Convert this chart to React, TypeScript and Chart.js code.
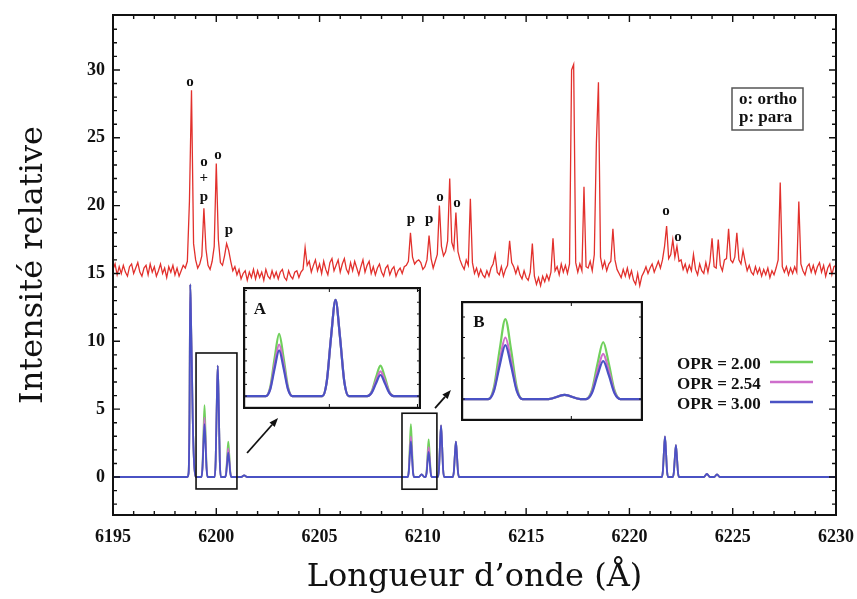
import React, { useEffect, useRef } from 'react';
import { Chart, registerables } from 'chart.js';

Chart.register(...registerables);

// ---------- DATA ----------
// Observed spectrum (red): intensities sampled every 0.1 Å from 6195.0 Å
const RED_START = 6195.0;
const RED_STEP = 0.1;
const redIntensity = [
  15.3, 15.7, 14.9, 15.5, 15.0, 15.6, 15.1, 14.8, 15.5, 15.7,
  15.0, 15.4, 15.8, 15.1, 14.8, 15.4, 15.6, 14.9, 15.7, 15.1,
  15.5, 14.8, 15.2, 15.7, 15.0, 15.4, 14.7, 15.5, 15.1, 15.6,
  14.9, 15.4, 14.8, 15.2, 15.6, 15.4, 15.9, 20.3, 28.5, 17.2,
  16.0, 15.4, 15.7, 16.3, 19.8, 16.8, 15.6, 15.3, 15.9, 17.0,
  23.1, 17.5, 15.8, 15.6, 16.3, 17.2, 16.7, 15.9, 15.2, 15.5,
  14.9, 15.3, 14.6, 15.0, 15.2, 14.5, 15.1, 14.7, 15.3, 14.6,
  15.2, 14.7, 15.1, 14.5, 15.3, 14.8, 14.6, 15.2, 14.7, 15.1,
  14.6, 15.1, 15.3, 14.7, 14.5, 15.2, 14.8, 14.6, 15.1, 15.2,
  14.7, 15.1, 15.3, 16.9, 15.6, 15.9, 15.1, 15.6, 16.0, 15.2,
  15.7, 15.0, 15.9, 15.3, 14.9, 15.8, 16.1, 15.2, 15.6, 16.0,
  15.1, 15.7, 16.1, 15.3, 15.0, 15.8, 15.2, 15.9, 15.4, 14.9,
  15.5, 16.0, 15.1, 15.6, 15.9, 15.0, 15.5, 14.9, 15.4, 15.7,
  15.1, 14.8, 15.4, 15.6, 14.9, 15.3, 15.5, 14.8, 15.2, 15.4,
  15.0, 15.5, 15.6, 15.9, 18.0, 16.2, 15.7, 15.9, 16.0, 15.8,
  15.3, 15.5, 16.0, 17.8, 16.1, 15.4, 15.9, 16.4, 20.0, 17.0,
  16.3, 16.6, 17.4, 22.0, 17.3, 16.8, 19.5, 16.6, 16.0, 15.6,
  15.3, 16.0, 15.6, 20.5, 15.8, 15.0, 15.4, 14.8, 15.3, 14.9,
  14.7, 15.2, 14.8, 15.4, 15.7, 16.4, 15.1, 14.9, 15.5, 14.8,
  15.3, 15.6, 17.4, 15.8, 15.5, 15.0, 15.5, 14.9, 14.6, 15.2,
  14.7, 14.5, 15.1, 17.2, 14.8, 14.2, 14.7, 14.1, 14.8, 14.4,
  14.9, 14.5, 15.1, 17.6, 15.2, 15.5, 14.9, 15.7, 15.1, 15.6,
  15.0, 15.7, 30.0, 30.4, 15.8, 15.1, 15.7, 15.2, 21.4, 15.5,
  15.4, 15.9, 15.2, 16.4, 24.6, 29.1, 16.2, 15.4, 15.9, 15.2,
  15.7, 15.9, 18.3, 16.0, 15.3, 15.0, 14.7, 15.3, 14.8, 15.4,
  14.7, 15.2, 14.5, 14.2, 15.0, 14.1, 14.8, 15.1, 15.5, 15.0,
  15.4, 15.7, 15.1, 15.5, 15.9, 15.4, 16.0, 17.0, 18.5, 16.1,
  16.4, 17.5, 16.2, 17.0, 15.9, 16.0, 15.3, 15.7, 15.1, 15.6,
  15.2, 16.4, 15.3, 14.9, 15.7, 15.2, 15.0, 15.8, 15.1, 15.9,
  17.6, 15.5, 15.4, 17.5, 15.6, 15.2, 16.0, 16.1, 18.3, 16.0,
  15.8, 16.2, 18.0, 16.0, 15.7, 16.7, 15.9, 15.2, 15.6, 15.1,
  14.9, 15.5, 15.0, 15.4, 14.8, 15.3, 14.9, 15.4, 14.7, 15.2,
  14.9, 15.4, 16.0, 21.7, 15.5, 15.1, 15.5, 14.9, 15.4, 15.0,
  15.5, 15.1, 20.3, 15.7, 15.2, 14.9, 15.5, 15.7, 15.1, 15.6,
  15.0, 15.5, 15.8, 15.1, 15.6, 14.8, 15.4, 15.7, 14.9, 15.5,
  15.6,
];

// Model spectra (wavelength points, shared by the three OPR values)
const modelWavelength = [
  6195.0,
  6198.6, 6198.66, 6198.7, 6198.74, 6198.78, 6198.82, 6198.86, 6198.92, 6199.0,
  6199.28, 6199.33, 6199.38, 6199.43, 6199.48, 6199.53, 6199.58,
  6199.92, 6199.97, 6200.02, 6200.07, 6200.12, 6200.17, 6200.22,
  6200.43, 6200.48, 6200.53, 6200.58, 6200.63, 6200.68, 6200.73,
  6201.2, 6201.35, 6201.5,
  6209.27, 6209.32, 6209.37, 6209.42, 6209.47, 6209.52, 6209.57,
  6209.8, 6209.94, 6210.08,
  6210.13, 6210.18, 6210.23, 6210.28, 6210.33, 6210.38, 6210.43,
  6210.73, 6210.78, 6210.83, 6210.88, 6210.93, 6210.98, 6211.03,
  6211.45, 6211.5, 6211.55, 6211.6, 6211.65, 6211.7, 6211.75,
  6221.57, 6221.62, 6221.67, 6221.72, 6221.77, 6221.82, 6221.87,
  6222.1, 6222.15, 6222.2, 6222.25, 6222.3, 6222.35, 6222.4,
  6223.6, 6223.75, 6223.9,
  6224.1, 6224.24, 6224.38,
  6230.0,
];

const modelOpr300 = [
  0,
  0, 0.3, 4.0, 14.2, 11.3, 8.0, 4.3, 1.2, 0,
  0, 0.6, 2.4, 3.9, 2.4, 0.6, 0,
  0, 1.2, 5.1, 8.2, 5.1, 1.2, 0,
  0, 0.27, 1.1, 1.8, 1.1, 0.27, 0,
  0, 0.12, 0,
  0, 0.4, 1.63, 2.63, 1.63, 0.4, 0,
  0, 0.2, 0,
  0, 0.28, 1.15, 1.85, 1.15, 0.28, 0,
  0, 0.57, 2.36, 3.8, 2.36, 0.57, 0,
  0, 0.39, 1.61, 2.6, 1.61, 0.39, 0,
  0, 0.45, 1.86, 3.0, 1.86, 0.45, 0,
  0, 0.35, 1.46, 2.35, 1.46, 0.35, 0,
  0, 0.22, 0,
  0, 0.2, 0,
  0,
];

const modelOpr254 = [
  0,
  0, 0.3, 4.0, 14.2, 11.3, 8.0, 4.3, 1.2, 0,
  0, 0.66, 2.73, 4.4, 2.73, 0.66, 0,
  0, 1.2, 5.1, 8.2, 5.1, 1.2, 0,
  0, 0.32, 1.3, 2.1, 1.3, 0.32, 0,
  0, 0.12, 0,
  0, 0.45, 1.86, 3.0, 1.86, 0.45, 0,
  0, 0.2, 0,
  0, 0.33, 1.36, 2.2, 1.36, 0.33, 0,
  0, 0.57, 2.36, 3.8, 2.36, 0.57, 0,
  0, 0.39, 1.61, 2.6, 1.61, 0.39, 0,
  0, 0.45, 1.86, 3.0, 1.86, 0.45, 0,
  0, 0.35, 1.46, 2.35, 1.46, 0.35, 0,
  0, 0.22, 0,
  0, 0.2, 0,
  0,
];

const modelOpr200 = [
  0,
  0, 0.3, 4.0, 14.2, 11.3, 8.0, 4.3, 1.2, 0,
  0, 0.8, 3.29, 5.3, 3.29, 0.8, 0,
  0, 1.2, 5.1, 8.2, 5.1, 1.2, 0,
  0, 0.39, 1.61, 2.6, 1.61, 0.39, 0,
  0, 0.12, 0,
  0, 0.59, 2.42, 3.9, 2.42, 0.59, 0,
  0, 0.2, 0,
  0, 0.42, 1.72, 2.78, 1.72, 0.42, 0,
  0, 0.57, 2.36, 3.8, 2.36, 0.57, 0,
  0, 0.39, 1.61, 2.6, 1.61, 0.39, 0,
  0, 0.45, 1.86, 3.0, 1.86, 0.45, 0,
  0, 0.35, 1.46, 2.35, 1.46, 0.35, 0,
  0, 0.22, 0,
  0, 0.2, 0,
  0,
];

const xTickValues = [6195, 6200, 6205, 6210, 6215, 6220, 6225, 6230];
const yTickValues = [0, 5, 10, 15, 20, 25, 30];

// ortho / para line markers on the observed spectrum
const annotationText = ['o', 'o', '+', 'p', 'o', 'p', 'p', 'p', 'o', 'o', 'o', 'o'];
const annotationWavelength = [6198.73, 6199.4, 6199.4, 6199.4, 6200.08, 6200.61, 6209.42, 6210.3, 6210.83, 6211.65, 6221.77, 6222.35];
const annotationIntensity = [29.1, 23.2, 22.0, 20.6, 23.7, 18.2, 19.0, 19.0, 20.6, 20.2, 19.6, 17.7];

const keyLines = ['o: ortho', 'p: para'];
const legendLabels = ['OPR = 2.00', 'OPR = 2.54', 'OPR = 3.00'];

// ---------- STYLE ----------
const RED = 'rgb(226, 48, 44)';
const BLUE = 'rgb(74, 82, 196)';
const MAGENTA = 'rgb(206, 110, 204)';
const GREEN = 'rgb(112, 208, 92)';
const LEGEND_COLORS = [GREEN, MAGENTA, BLUE];
const INK = '#111';
const TICK_FONT = { family: '"Liberation Serif", serif', weight: 'bold' as const, size: 18 };
const TITLE_FONT = { family: '"DejaVu Serif", serif', size: 32 };

const X_MIN = 6195;
const X_MAX = 6230;
const Y_MIN = -2.8;
const Y_MAX = 34.05;

const BOX_A = { x0: 6199.02, x1: 6201.0, y0: -0.88, y1: 9.14 };
const BOX_B = { x0: 6208.99, x1: 6210.68, y0: -0.9, y1: 4.7 };
const ARROW_A = { tail: [6201.49, 1.77], head: [6202.99, 4.35] };
const ARROW_B = { tail: [6210.59, 5.08], head: [6211.36, 6.41] };

const INSET_A = { left: 243, top: 287, width: 178, height: 122, xMin: 6199.02, xMax: 6201.04, yMin: -1.1, yMax: 9.3, label: 'A', lx: 17, ly: 23 };
const INSET_B = { left: 461, top: 301, width: 182, height: 120, xMin: 6209.03, xMax: 6210.63, yMin: -1.07, yMax: 4.78, label: 'B', lx: 18, ly: 22 };

const redPoints = redIntensity.map((v, i) => ({ x: RED_START + i * RED_STEP, y: v }));
const toPoints = (ys: number[]) => ys.map((v, i) => ({ x: modelWavelength[i], y: v }));

function modelDatasets(width: number) {
  return [
    { label: 'OPR = 3.00', data: toPoints(modelOpr300), borderColor: BLUE, borderWidth: width, pointRadius: 0, cubicInterpolationMode: 'monotone' as const },
    { label: 'OPR = 2.54', data: toPoints(modelOpr254), borderColor: MAGENTA, borderWidth: width, pointRadius: 0, cubicInterpolationMode: 'monotone' as const },
    { label: 'OPR = 2.00', data: toPoints(modelOpr200), borderColor: GREEN, borderWidth: width, pointRadius: 0, cubicInterpolationMode: 'monotone' as const },
  ];
}

function drawArrow(ctx: CanvasRenderingContext2D, x0: number, y0: number, x1: number, y1: number) {
  const ang = Math.atan2(y1 - y0, x1 - x0);
  const L = 9, W = 3.5;
  const bx = x1 - L * Math.cos(ang), by = y1 - L * Math.sin(ang);
  ctx.beginPath();
  ctx.moveTo(x0, y0);
  ctx.lineTo(bx, by);
  ctx.stroke();
  ctx.beginPath();
  ctx.moveTo(x1, y1);
  ctx.lineTo(bx + W * Math.sin(ang), by - W * Math.cos(ang));
  ctx.lineTo(bx - W * Math.sin(ang), by + W * Math.cos(ang));
  ctx.closePath();
  ctx.fill();
}

const decorPlugin = {
  id: 'decor',
  afterDatasetsDraw(chart: any) {
    const { ctx, chartArea: a } = chart;
    const xs = chart.scales.x, ys = chart.scales.y;
    const px = (v: number) => xs.getPixelForValue(v);
    const py = (v: number) => ys.getPixelForValue(v);
    ctx.save();
    ctx.strokeStyle = INK;
    ctx.fillStyle = INK;
    ctx.lineWidth = 1.4;
    // inward ticks on all four sides
    ctx.beginPath();
    for (let w = X_MIN; w <= X_MAX; w += 1) {
      const x = px(w);
      const len = w % 5 === 0 ? 7 : 4;
      ctx.moveTo(x, a.bottom); ctx.lineTo(x, a.bottom - len);
      ctx.moveTo(x, a.top); ctx.lineTo(x, a.top + len);
    }
    for (let v = -2; v <= 33; v += 1) {
      const y = py(v);
      const len = v % 5 === 0 ? 7 : 4;
      ctx.moveTo(a.left, y); ctx.lineTo(a.left + len, y);
      ctx.moveTo(a.right, y); ctx.lineTo(a.right - len, y);
    }
    ctx.stroke();
    // frame
    ctx.lineWidth = 2;
    ctx.strokeRect(a.left, a.top, a.right - a.left, a.bottom - a.top);

    // zoom boxes
    ctx.lineWidth = 1.6;
    for (const b of [BOX_A, BOX_B]) {
      ctx.strokeRect(px(b.x0), py(b.y1), px(b.x1) - px(b.x0), py(b.y0) - py(b.y1));
    }
    // arrows
    ctx.lineWidth = 1.8;
    for (const ar of [ARROW_A, ARROW_B]) {
      drawArrow(ctx, px(ar.tail[0]), py(ar.tail[1]), px(ar.head[0]), py(ar.head[1]));
    }

    // o / p markers
    ctx.font = 'bold 15px "Liberation Serif", serif';
    ctx.textAlign = 'center';
    ctx.textBaseline = 'middle';
    annotationText.forEach((t, i) => {
      ctx.fillText(t, px(annotationWavelength[i]), py(annotationIntensity[i]));
    });

    // key box (o: ortho / p: para)
    ctx.lineWidth = 1.5;
    ctx.strokeStyle = '#555';
    ctx.strokeRect(732, 88, 71, 42);
    ctx.font = 'bold 17px "Liberation Serif", serif';
    ctx.textAlign = 'left';
    keyLines.forEach((t, i) => ctx.fillText(t, 739, 100 + i * 18));

    // OPR legend
    legendLabels.forEach((t, i) => {
      const y = 365 + i * 20;
      ctx.fillStyle = INK;
      ctx.fillText(t, 677, y);
      ctx.strokeStyle = LEGEND_COLORS[i];
      ctx.lineWidth = 2.6;
      ctx.beginPath();
      ctx.moveTo(770, y - 3);
      ctx.lineTo(813, y - 3);
      ctx.stroke();
    });
    ctx.restore();
  },
};

function makeMain(canvas: HTMLCanvasElement) {
  return new Chart(canvas, {
    type: 'line',
    data: {
      datasets: [
        { label: 'Observé', data: redPoints, borderColor: RED, borderWidth: 1.3, pointRadius: 0, tension: 0 },
        ...modelDatasets(1.8),
      ] as any,
    },
    options: {
      animation: false,
      responsive: false,
      devicePixelRatio: 1,
      layout: { padding: { top: 15, right: 21, left: 0, bottom: 0 } },
      plugins: { legend: { display: false }, tooltip: { enabled: false } },
      scales: {
        x: {
          type: 'linear',
          min: X_MIN,
          max: X_MAX,
          afterBuildTicks: (ax: any) => { ax.ticks = xTickValues.map((v) => ({ value: v })); },
          afterFit: (s: any) => { s.height = 84; s.paddingLeft = 0; s.paddingRight = 0; },
          grid: { display: false, drawTicks: false },
          border: { display: false },
          ticks: { font: TICK_FONT, color: INK, padding: 12, maxRotation: 0, autoSkip: false, callback: (v: any) => String(v) },
          title: { display: true, text: 'Longueur d’onde (Å)', font: TITLE_FONT, color: INK, padding: { top: 0, bottom: 2 } },
        },
        y: {
          type: 'linear',
          min: Y_MIN,
          max: Y_MAX,
          afterBuildTicks: (ax: any) => { ax.ticks = yTickValues.map((v) => ({ value: v })); },
          afterFit: (s: any) => { s.width = 113; s.paddingTop = 0; s.paddingBottom = 0; },
          grid: { display: false, drawTicks: false },
          border: { display: false },
          ticks: { font: TICK_FONT, color: INK, padding: 8, autoSkip: false, callback: (v: any) => String(v) },
          title: { display: true, text: 'Intensité relative', font: TITLE_FONT, color: INK, padding: { top: 14, bottom: 0 } },
        },
      },
    } as any,
    plugins: [decorPlugin],
  });
}

function makeInset(canvas: HTMLCanvasElement, cfg: typeof INSET_A) {
  const insetPlugin = {
    id: 'insetFrame',
    beforeDraw(chart: any) {
      const { ctx, width, height } = chart;
      ctx.save();
      ctx.fillStyle = '#fff';
      ctx.fillRect(0, 0, width, height);
      ctx.restore();
    },
    afterDatasetsDraw(chart: any) {
      const { ctx, width, height } = chart;
      const xs = chart.scales.x, ys = chart.scales.y;
      ctx.save();
      ctx.strokeStyle = INK;
      ctx.fillStyle = INK;
      ctx.lineWidth = 1;
      ctx.beginPath();
      for (let v = Math.ceil(cfg.yMin); v <= cfg.yMax; v += 1) {
        const y = ys.getPixelForValue(v);
        ctx.moveTo(0, y); ctx.lineTo(4, y);
        ctx.moveTo(width, y); ctx.lineTo(width - 4, y);
      }
      for (let w = Math.ceil(cfg.xMin); w <= cfg.xMax; w += 1) {
        const x = xs.getPixelForValue(w);
        ctx.moveTo(x, height); ctx.lineTo(x, height - 5);
        ctx.moveTo(x, 0); ctx.lineTo(x, 5);
      }
      ctx.stroke();
      ctx.lineWidth = 2.2;
      ctx.strokeRect(1.1, 1.1, width - 2.2, height - 2.2);
      ctx.font = 'bold 17px "Liberation Serif", serif';
      ctx.textAlign = 'center';
      ctx.textBaseline = 'middle';
      ctx.fillText(cfg.label, cfg.lx, cfg.ly);
      ctx.restore();
    },
  };
  return new Chart(canvas, {
    type: 'line',
    data: { datasets: modelDatasets(2.2) as any },
    options: {
      animation: false,
      responsive: false,
      devicePixelRatio: 1,
      layout: { padding: 0 },
      plugins: { legend: { display: false }, tooltip: { enabled: false } },
      scales: {
        x: { type: 'linear', min: cfg.xMin, max: cfg.xMax, display: false },
        y: { type: 'linear', min: cfg.yMin, max: cfg.yMax, display: false },
      },
    } as any,
    plugins: [insetPlugin],
  });
}

export default function App() {
  const mainRef = useRef<HTMLCanvasElement>(null);
  const aRef = useRef<HTMLCanvasElement>(null);
  const bRef = useRef<HTMLCanvasElement>(null);

  useEffect(() => {
    if (!mainRef.current || !aRef.current || !bRef.current) return;
    const charts = [
      makeMain(mainRef.current),
      makeInset(aRef.current, INSET_A),
      makeInset(bRef.current, INSET_B),
    ];
    return () => charts.forEach((c) => c.destroy());
  }, []);

  return (
    <div style={{ position: 'fixed', left: 0, top: 0, width: 857, height: 599, background: '#fff', overflow: 'hidden' }}>
      <canvas ref={mainRef} width={857} height={599} style={{ position: 'absolute', left: 0, top: 0 }} />
      <canvas ref={aRef} width={INSET_A.width} height={INSET_A.height} style={{ position: 'absolute', left: INSET_A.left, top: INSET_A.top }} />
      <canvas ref={bRef} width={INSET_B.width} height={INSET_B.height} style={{ position: 'absolute', left: INSET_B.left, top: INSET_B.top }} />
    </div>
  );
}
